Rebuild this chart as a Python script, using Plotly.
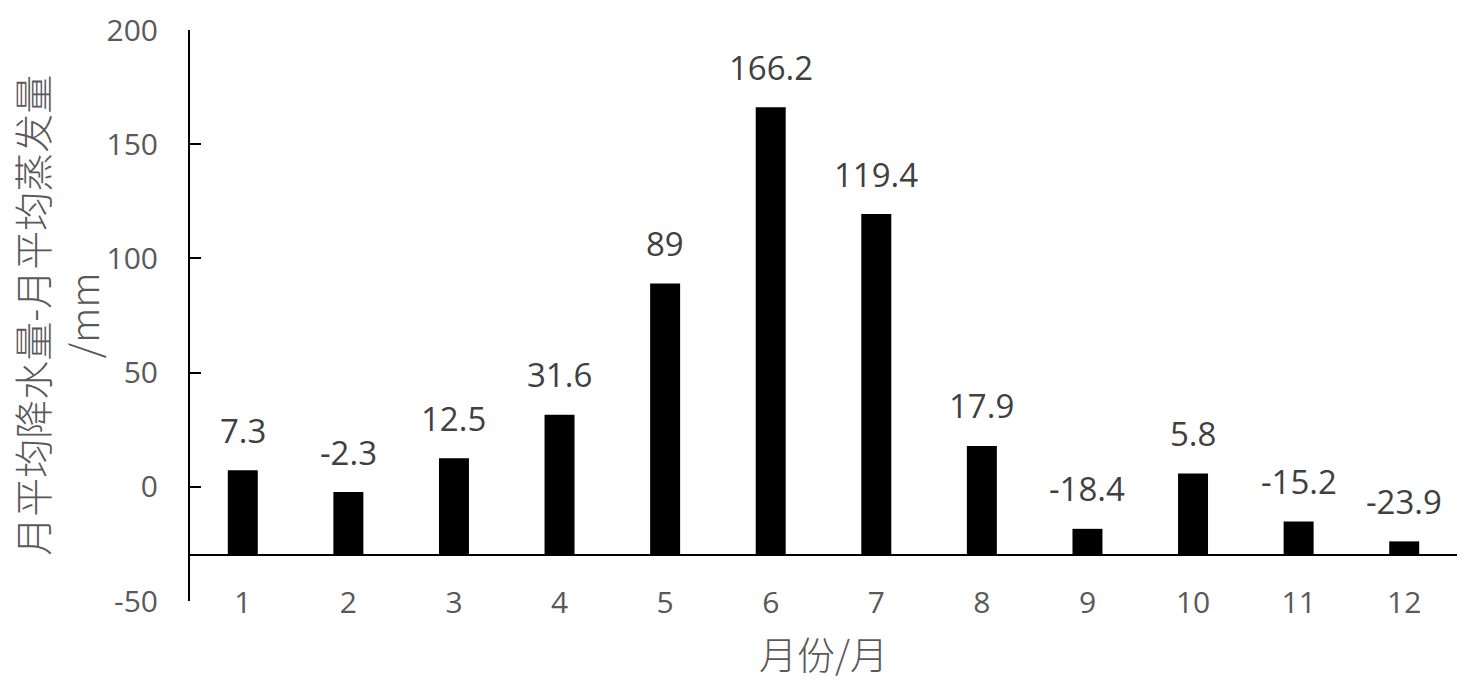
import plotly.graph_objects as go

months = ["1", "2", "3", "4", "5", "6", "7", "8", "9", "10", "11", "12"]
values = [7.3, -2.3, 12.5, 31.6, 89, 166.2, 119.4, 17.9, -18.4, 5.8, -15.2, -23.9]
axis_cross = -30
y_ticks = [-50, 0, 50, 100, 150, 200]
y_ticktext = ["-50", "0", "50", "100", "150", "200"]
y_title = "月平均降水量-月平均蒸发量<br>/mm"
x_title = "月份/月"

y_min, y_max = -50, 200
lengths = [v - axis_cross for v in values]

fig = go.Figure()
fig.add_trace(go.Bar(
    x=months, y=lengths, base=axis_cross,
    marker=dict(color="#000000", line=dict(width=0)),
    width=0.284,
    customdata=values,
    hovertemplate="%{x}: %{customdata}<extra></extra>",
))

for i, v in enumerate(values):
    fig.add_annotation(
        x=i, y=v, xref="x", yref="y", text=f"{v:g}",
        showarrow=False, yanchor="middle", yshift=40,
        font=dict(family="Open Sans", size=33, color="#404040"),
    )

fig.add_annotation(
    x=-0.1055, y=0.5, xref="paper", yref="paper", text=y_title,
    textangle=-90, showarrow=False, xanchor="center", yanchor="middle",
    borderpad=0,
    font=dict(family="Noto Sans CJK SC", size=39, color="#595959", weight=300),
)
fig.add_annotation(
    x=0.5, y=-0.090, xref="paper", yref="paper", text=x_title,
    showarrow=False, xanchor="center", yanchor="middle",
    font=dict(family="Noto Sans CJK SC", size=38, color="#595959", weight=300),
)

fig.update_layout(
    width=1465, height=696,
    margin=dict(l=190, r=8, t=30, b=95, pad=0),
    paper_bgcolor="white", plot_bgcolor="white",
    showlegend=False,
    bargap=0.716,
    xaxis=dict(
        anchor="free",
        position=(axis_cross - y_min) / (y_max - y_min),
        showline=True, linecolor="#000000", linewidth=2,
        ticks="", showgrid=False, zeroline=False,
        tickfont=dict(family="Open Sans", size=30, color="#595959"),
        ticklabelstandoff=21,
        categoryorder="array", categoryarray=months,
    ),
    yaxis=dict(
        range=[y_min, y_max],
        tickvals=y_ticks, ticktext=y_ticktext,
        showline=True, linecolor="#000000", linewidth=2,
        ticks="inside", ticklen=11, tickwidth=2, tickcolor="#000000",
        showgrid=False, zeroline=False,
        tickfont=dict(family="Open Sans", size=30, color="#595959"),
        ticklabelstandoff=24,
    ),
)

fig.write_html("out.html", config={"displayModeBar": False},
               post_script="document.body.style.margin='0';")
